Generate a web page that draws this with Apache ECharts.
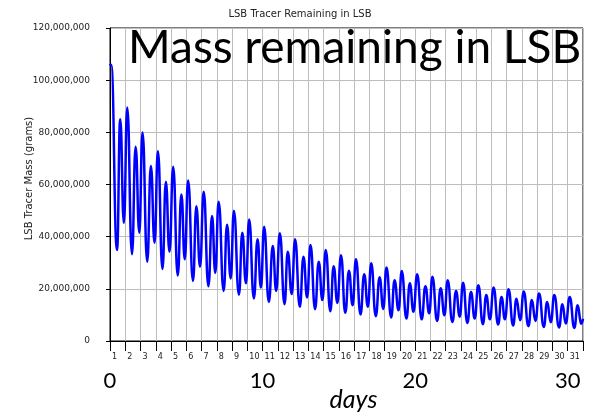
<!DOCTYPE html>
<html>
<head>
<meta charset="utf-8">
<script src="https://cdn.jsdelivr.net/npm/echarts@6/dist/echarts.min.js"></script>
<style>
  html, body { margin: 0; padding: 0; background: #ffffff; }
  #chart { width: 592px; height: 414px; }
</style>
</head>
<body>
<div id="chart"></div>
<script>
// Tracer mass left in the LSB over one month: successive tidal highs and lows.
// Time in days, mass in grams.
const days = [
  0, 0.08, 0.46, 0.67, 0.91,
  1.13, 1.44, 1.68, 1.92,
  2.13, 2.44, 2.68, 2.92,
  3.14, 3.44, 3.66, 3.90,
  4.14, 4.44, 4.68, 4.90,
  5.12, 5.44, 5.66, 5.90,
  6.14, 6.45, 6.69, 6.90,
  7.12, 7.45, 7.67, 7.91,
  8.12, 8.45, 8.67, 8.91,
  9.12, 9.43, 9.67, 9.89,
  10.10, 10.41, 10.67, 10.89,
  11.13, 11.44, 11.65, 11.91,
  12.13, 12.44, 12.68, 12.92,
  13.14, 13.44, 13.68, 13.92,
  14.14, 14.44, 14.66, 14.90,
  15.14, 15.42, 15.66, 15.90,
  16.12, 16.42, 16.66, 16.90,
  17.12, 17.42, 17.67, 17.91,
  18.12, 18.43, 18.65, 18.91,
  19.12, 19.43, 19.65, 19.89,
  20.13, 20.43, 20.67, 20.92,
  21.13, 21.44, 21.67, 21.92,
  22.13, 22.44, 22.68, 22.92,
  23.14, 23.42, 23.66, 23.90,
  24.14, 24.44, 24.66, 24.90,
  25.14, 25.44, 25.66, 25.88,
  26.12, 26.42, 26.64, 26.88,
  27.12, 27.42, 27.65, 27.88,
  28.12, 28.43, 28.65, 28.89,
  29.12, 29.43, 29.65, 29.87,
  30.13, 30.43, 30.65, 30.88, 31.0
];

const massGrams = [
  106.3e6, 105.8e6, 34.9e6, 85.0e6, 45.3e6,
  89.5e6, 33.3e6, 74.5e6, 41.5e6,
  79.9e6, 30.4e6, 67.1e6, 37.7e6,
  72.7e6, 27.6e6, 61.1e6, 34.2e6,
  66.8e6, 25.1e6, 56.2e6, 31.3e6,
  61.5e6, 23.0e6, 51.7e6, 28.5e6,
  57.2e6, 21.0e6, 47.9e6, 26.1e6,
  53.4e6, 19.2e6, 44.6e6, 24.0e6,
  49.9e6, 17.7e6, 41.5e6, 22.1e6,
  46.6e6, 16.3e6, 39.0e6, 20.5e6,
  43.8e6, 15.0e6, 36.4e6, 19.2e6,
  41.3e6, 14.1e6, 34.2e6, 18.0e6,
  39.0e6, 13.1e6, 32.3e6, 16.7e6,
  36.8e6, 12.2e6, 30.4e6, 15.7e6,
  34.9e6, 11.4e6, 28.7e6, 14.6e6,
  32.9e6, 10.8e6, 26.9e6, 13.7e6,
  31.3e6, 10.2e6, 25.6e6, 13.1e6,
  29.8e6, 9.5e6, 24.4e6, 12.3e6,
  28.2e6, 9.0e6, 23.3e6, 11.8e6,
  26.8e6, 8.6e6, 22.1e6, 11.2e6,
  25.6e6, 8.3e6, 21.0e6, 10.6e6,
  24.6e6, 7.7e6, 20.2e6, 9.9e6,
  23.3e6, 7.3e6, 19.2e6, 9.3e6,
  22.3e6, 6.9e6, 18.8e6, 8.6e6,
  21.4e6, 6.4e6, 17.6e6, 8.3e6,
  20.5e6, 6.3e6, 16.9e6, 8.3e6,
  19.8e6, 5.9e6, 16.2e6, 8.0e6,
  19.0e6, 5.7e6, 15.7e6, 7.7e6,
  18.2e6, 5.4e6, 15.0e6, 7.2e6,
  17.6e6, 5.2e6, 14.1e6, 6.7e6,
  16.9e6, 5.0e6, 13.7e6, 6.6e6, 8.5e6
];

// Axis ranges and tick steps
const dayMin = 0, dayMax = 31, dayStep = 1, bigDayStep = 10;
const massMin = 0, massMax = 120e6, massStep = 20e6;

const chartTitle = 'LSB Tracer Remaining in LSB';
const overlayTitle = 'Mass remaining in LSB';
const yAxisTitle = 'LSB Tracer Mass (grams)';
const xAxisTitle = 'days';

const smallFont = 'DejaVu Sans';
const bigFont = 'Lato';

const seriesData = days.map((d, i) => [d, massGrams[i]]);

const chart = echarts.init(document.getElementById('chart'), null, { renderer: 'canvas' });

chart.setOption({
  animation: false,
  backgroundColor: '#ffffff',
  grid: {
    left: 110, right: 9, top: 28, height: 313,
    containLabel: false, outerBoundsMode: 'none',
    show: true, borderColor: '#000000', borderWidth: 1, backgroundColor: 'transparent'
  },
  title: {
    text: chartTitle,
    left: 295, top: 4, textAlign: 'center',
    textStyle: { fontFamily: smallFont, fontSize: 10, fontWeight: 'normal', color: '#222' }
  },
  graphic: [{
    type: 'text',
    left: 128, top: 25,
    style: { text: overlayTitle, font: '46px Lato', fill: '#000000' },
    z: 10
  }],
  xAxis: [{
    type: 'value', min: dayMin, max: dayMax, interval: dayStep,
    axisLine: { show: true, onZero: false, lineStyle: { color: '#000', width: 1 } },
    axisTick: { show: true, length: 10, lineStyle: { color: '#000', width: 1 } },
    splitLine: { show: true, lineStyle: { color: '#bdbdbd', width: 1 } },
    axisLabel: {
      formatter: v => (v < dayMax ? String(v + 1) : ''),
      align: 'left', padding: [0, 0, 0, 2], margin: 12,
      fontFamily: smallFont, fontSize: 8, color: '#222'
    }
  }, {
    type: 'value', min: dayMin, max: dayMax, interval: bigDayStep, position: 'bottom',
    axisLine: { show: false }, axisTick: { show: false }, splitLine: { show: false },
    axisLabel: { margin: 29, fontFamily: bigFont, fontSize: 22, color: '#000' },
    name: xAxisTitle, nameLocation: 'middle', nameGap: 46, nameMoveOverlap: false,
    nameTextStyle: { fontFamily: bigFont, fontStyle: 'italic', fontSize: 25, color: '#000', padding: [0, 0, 0, 14] }
  }],
  yAxis: {
    type: 'value', min: massMin, max: massMax, interval: massStep,
    axisLine: { show: true, lineStyle: { color: '#000', width: 1 } },
    axisTick: { show: true, length: 4, lineStyle: { color: '#000' } },
    splitLine: { show: true, lineStyle: { color: '#bdbdbd', width: 1 } },
    axisLabel: {
      formatter: v => v.toLocaleString('en-US'),
      margin: 20, fontFamily: smallFont, fontSize: 9, color: '#222'
    },
    name: yAxisTitle, nameLocation: 'middle', nameGap: 76, nameMoveOverlap: false,
    nameTextStyle: { fontFamily: smallFont, fontSize: 10, color: '#222', padding: [0, 0, 0, 12] }
  },
  series: [{
    type: 'line',
    data: seriesData,
    smooth: 0.5,
    smoothMonotone: 'x',
    showSymbol: false,
    lineStyle: { color: '#0000ff', width: 2.5 },
    z: 5
  }]
});
</script>
</body>
</html>
